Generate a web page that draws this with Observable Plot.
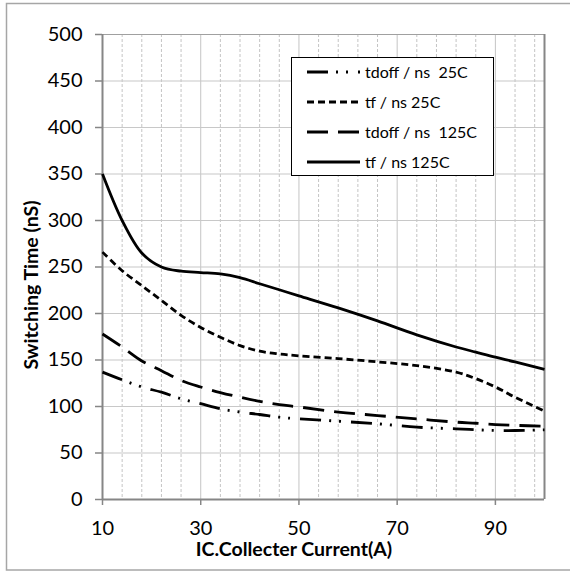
<!DOCTYPE html>
<html><head><meta charset="utf-8">
<script src="https://cdn.jsdelivr.net/npm/d3@7"></script>
<script src="https://cdn.jsdelivr.net/npm/@observablehq/plot@0.6"></script>
<style>body{margin:0;background:#fff} #chart{position:relative;width:570px;height:571px}</style>
</head><body><div id="chart"></div>
<script>
const currents = [10,14,18,22,26,30,34,38,42,46,50,58,66,74,82,86,90,94,100];
const tdoff25  = [137,128.7,121,115.4,108.3,103,97.5,94,91.4,88.5,86.7,84.2,81.4,77.8,76,75,74.2,74.2,74.9];
const tf25     = [266,246,230,214,198,185,174.5,165.5,159.5,156.5,154.5,151.5,148,144,137,130,121,110,95];
const tdoff125 = [178,164,149,138.5,128,121,115,110,105.5,102,99.5,94,90.3,86.7,83.2,82,80.6,79.7,78.8];
const tf125    = [350,300,265,250,245.5,244,242.5,238.5,232,225.5,219,206,192,177,164,158.5,153,148,140];
const seriesNames = ["tdoff / ns  25C", "tf / ns 25C", "tdoff / ns  125C", "tf / ns 125C"];
const seriesValues = [tdoff25, tf25, tdoff125, tf125];
const dashes = ["21 8 2 8 2 10", "7 4", "21 10", null];
const xTicks = [10,30,50,70,90];
const yTicks = [0,50,100,150,200,250,300,350,400,450,500];
const minorX = d3.range(10, 101, 4).filter(v => !xTicks.includes(v));
const xLabel = "IC.Collecter Current(A)";
const yLabel = "Switching Time (nS)";

const rows = seriesNames.map((name, i) => currents.map((c, j) => ({name, x: c, y: seriesValues[i][j]})));

const lineMarks = rows.map((data, i) => Plot.line(data, {
  x: "x", y: "y", curve: "catmull-rom", stroke: "black", strokeWidth: 2.8,
  strokeDasharray: dashes[i] || undefined, strokeLinecap: "butt"
}));

const chart = Plot.plot({
  width: 570, height: 571,
  marginLeft: 102, marginRight: 26, marginTop: 34, marginBottom: 72,
  x: {domain: [10, 100]},
  y: {domain: [0, 500]},
  style: {fontFamily: "Lato, sans-serif", fontSize: "20px", color: "black", background: "white", overflow: "visible"},
  marks: [
    Plot.ruleX(minorX, {stroke: "#c4c4c4", strokeWidth: 1, strokeDasharray: "3 2"}),
    Plot.ruleX(xTicks.slice(1), {stroke: "#c4c4c4", strokeWidth: 1}),
    Plot.ruleY(yTicks.slice(1), {stroke: "#c8c8c8", strokeWidth: 1.2}),
    Plot.ruleY([500], {stroke: "#a0a0a0", strokeWidth: 1.2}),
    Plot.ruleX([100], {stroke: "#868686", strokeWidth: 2}),
    Plot.axisY({ticks: yTicks, tickSize: 7, tickPadding: 13, label: null, stroke: "#868686", fill: "black", strokeWidth: 1.5}),
    Plot.axisX({ticks: xTicks, tickSize: 6, tickPadding: 15, label: null, stroke: "#868686", fill: "black", strokeWidth: 1.5}),
    Plot.ruleX([10], {stroke: "#868686", strokeWidth: 2}),
    Plot.ruleY([0], {stroke: "#868686", strokeWidth: 2}),
    ...lineMarks
  ]
});
document.getElementById("chart").append(chart);
const svg = d3.select(chart);

// outer chart border
svg.append("rect").attr("x", 6.5).attr("y", 3.5).attr("width", 570).attr("height", 566.5)
  .attr("fill", "none").attr("stroke", "#a6a6a6").attr("stroke-width", 1.5);

// axis titles
svg.append("text").attr("x", 294).attr("y", 556).attr("text-anchor", "middle")
  .attr("font-family", "Lato, sans-serif").attr("font-weight", "bold").attr("font-size", 19.5)
  .text(xLabel);
svg.append("text").attr("transform", "translate(38,285) rotate(-90)").attr("text-anchor", "middle")
  .attr("font-family", "Lato, sans-serif").attr("font-weight", "bold").attr("font-size", 19.5)
  .text(yLabel);

// legend
const lg = svg.append("g");
lg.append("rect").attr("x", 291.5).attr("y", 57.5).attr("width", 202).attr("height", 118)
  .attr("fill", "white").attr("stroke", "black").attr("stroke-width", 1);
seriesNames.forEach((name, i) => {
  const cy = 72 + i * 30;
  lg.append("line").attr("x1", 307).attr("x2", 360).attr("y1", cy).attr("y2", cy)
    .attr("stroke", "black").attr("stroke-width", 2.8)
    .attr("stroke-dasharray", dashes[i] || null);
  lg.append("text").attr("x", 365).attr("y", cy).attr("dy", "0.35em")
    .attr("text-anchor", "start")
    .attr("font-family", "Lato, sans-serif").attr("font-size", 16)
    .style("white-space", "pre")
    .text(name);
});
</script></body></html>
